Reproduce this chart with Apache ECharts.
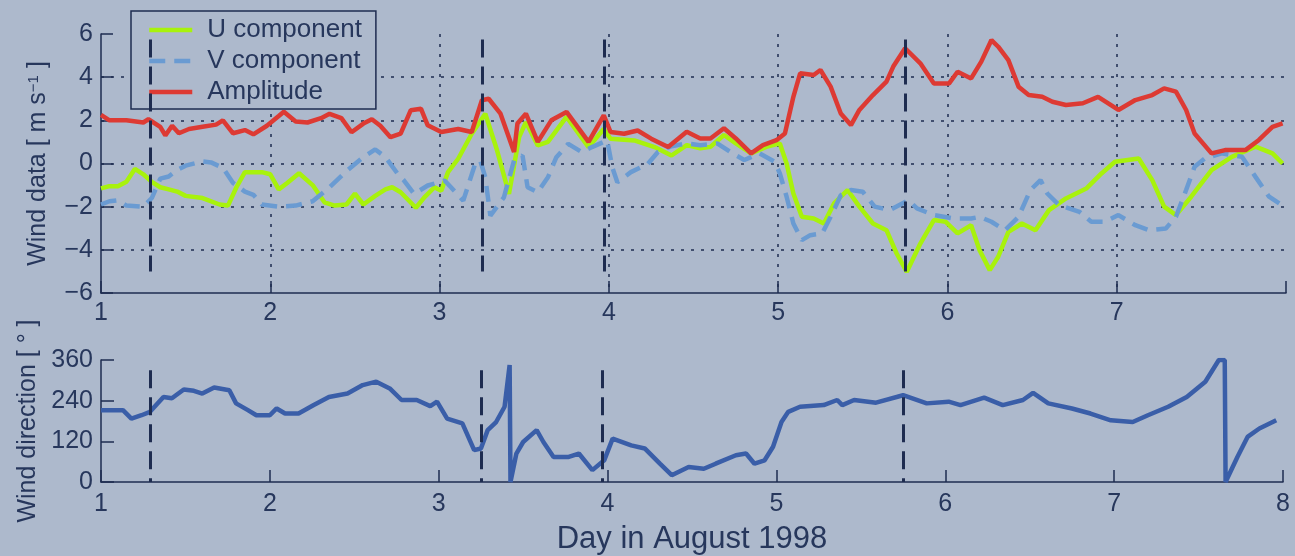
<!DOCTYPE html>
<html lang="en">

<head>
    <meta charset="UTF-8">
    <title>Wind data</title>
    <style>
        * {
            margin: 0;
            padding: 0;
        }

        html,
        body {
            height: 100%;
            background-color: #adb9cc;
        }

        #box {
            width: 1295px;
            height: 556px;
        }
    </style>
    <script src="https://cdn.jsdelivr.net/npm/echarts/dist/echarts.min.js"></script>
</head>

<body>
    <div id="box"></div>

    <script>
        // [day, m/s]
        var uComp = [[1.00, -1.15], [1.05, -1.05], [1.10, -1.05], [1.15, -0.85], [1.20, -0.25], [1.25, -0.5], [1.30, -0.85], [1.35, -1.1], [1.40, -1.2], [1.45, -1.3], [1.50, -1.5], [1.60, -1.6], [1.70, -1.9], [1.75, -1.95], [1.80, -1.1], [1.85, -0.4], [1.95, -0.4], [2.00, -0.5], [2.05, -1.2], [2.10, -0.9], [2.17, -0.45], [2.25, -1.0], [2.32, -1.8], [2.38, -1.95], [2.45, -1.9], [2.50, -1.4], [2.55, -1.9], [2.62, -1.5], [2.68, -1.2], [2.72, -1.1], [2.77, -1.33], [2.86, -2.05], [2.91, -1.57], [2.97, -1.1], [3.01, -1.26], [3.05, -0.4], [3.11, 0.22], [3.19, 1.38], [3.27, 2.31], [3.34, 0.6], [3.41, -1.41], [3.47, 1.22], [3.51, 1.92], [3.58, 0.84], [3.64, 1.0], [3.75, 2.16], [3.88, 0.76], [3.97, 1.6], [4.01, 1.15], [4.15, 1.07], [4.27, 0.76], [4.37, 0.37], [4.46, 0.85], [4.54, 0.7], [4.60, 0.77], [4.68, 1.32], [4.75, 0.93], [4.84, 0.47], [4.93, 0.77], [5.01, 0.93], [5.05, 0.0], [5.09, -1.39], [5.14, -2.47], [5.21, -2.55], [5.27, -2.78], [5.33, -1.85], [5.41, -1.23], [5.48, -2.0], [5.56, -2.78], [5.64, -3.09], [5.70, -4.17], [5.76, -5.02], [5.84, -3.71], [5.92, -2.62], [5.99, -2.7], [6.06, -3.24], [6.14, -2.86], [6.19, -4.02], [6.25, -4.94], [6.30, -4.32], [6.36, -3.17], [6.44, -2.78], [6.52, -3.09], [6.60, -2.16], [6.70, -1.62], [6.82, -1.16], [6.91, -0.46], [6.99, 0.08], [7.13, 0.23], [7.21, -0.77], [7.28, -2.0], [7.35, -2.39], [7.44, -1.54], [7.56, -0.31], [7.68, 0.31], [7.82, 0.78], [7.92, 0.47], [7.98, 0.0]];

        var vComp = [[1.00, -1.9], [1.05, -1.75], [1.10, -1.7], [1.15, -1.95], [1.25, -2.0], [1.30, -1.6], [1.35, -0.7], [1.40, -0.6], [1.45, -0.3], [1.50, -0.1], [1.60, 0.1], [1.65, 0.05], [1.72, -0.2], [1.78, -0.9], [1.85, -1.3], [1.90, -1.45], [1.95, -1.9], [2.05, -2.0], [2.15, -1.95], [2.25, -1.75], [2.35, -1.1], [2.45, -0.35], [2.55, 0.3], [2.62, 0.65], [2.68, 0.3], [2.75, -0.45], [2.79, -0.79], [2.85, -1.41], [2.93, -1.02], [3.03, -0.79], [3.14, -1.72], [3.21, -0.02], [3.24, 0.14], [3.27, -0.64], [3.30, -2.42], [3.38, -1.57], [3.44, 0.14], [3.49, 0.37], [3.52, -1.1], [3.58, -1.33], [3.64, -0.64], [3.69, 0.29], [3.76, 0.91], [3.84, 0.53], [3.90, 0.76], [3.99, 1.07], [4.02, -0.17], [4.05, -0.87], [4.13, -0.4], [4.23, -0.02], [4.29, 0.53], [4.37, 0.8], [4.46, 0.93], [4.54, 0.85], [4.64, 0.93], [4.73, 0.47], [4.80, 0.16], [4.89, 0.47], [4.98, 0.08], [5.01, -0.46], [5.05, -1.54], [5.09, -2.78], [5.14, -3.55], [5.19, -3.32], [5.26, -3.24], [5.31, -2.47], [5.37, -1.47], [5.43, -1.23], [5.50, -1.31], [5.57, -2.0], [5.66, -2.16], [5.77, -1.7], [5.82, -2.08], [5.92, -2.39], [6.04, -2.55], [6.14, -2.55], [6.19, -2.47], [6.26, -2.7], [6.34, -3.09], [6.42, -2.47], [6.49, -1.23], [6.55, -0.77], [6.59, -1.39], [6.66, -1.93], [6.78, -2.24], [6.85, -2.7], [6.93, -2.7], [7.01, -2.39], [7.11, -2.86], [7.19, -3.09], [7.29, -3.01], [7.35, -2.47], [7.41, -1.23], [7.46, -0.15], [7.52, 0.23], [7.62, 0.47], [7.74, 0.31], [7.82, -0.62], [7.90, -1.54], [7.96, -1.85]];

        var amplitude = [[1.00, 2.25], [1.05, 2.0], [1.15, 2.0], [1.25, 1.9], [1.28, 2.05], [1.35, 1.7], [1.38, 1.3], [1.42, 1.75], [1.46, 1.4], [1.52, 1.6], [1.60, 1.7], [1.68, 1.8], [1.72, 2.0], [1.78, 1.4], [1.85, 1.55], [1.90, 1.35], [1.98, 1.75], [2.05, 2.2], [2.08, 2.4], [2.15, 1.95], [2.22, 1.9], [2.30, 2.1], [2.35, 2.3], [2.42, 2.1], [2.48, 1.45], [2.55, 1.85], [2.60, 2.05], [2.65, 1.75], [2.71, 1.22], [2.77, 1.38], [2.83, 2.47], [2.89, 2.54], [2.93, 1.77], [3.01, 1.46], [3.11, 1.6], [3.19, 1.46], [3.25, 2.93], [3.29, 3.0], [3.36, 2.31], [3.44, 0.53], [3.46, 1.85], [3.51, 2.31], [3.58, 1.0], [3.66, 2.0], [3.75, 2.39], [3.88, 1.0], [3.97, 2.23], [4.01, 1.46], [4.09, 1.38], [4.17, 1.53], [4.25, 1.15], [4.35, 0.76], [4.46, 1.47], [4.54, 1.16], [4.60, 1.16], [4.68, 1.63], [4.75, 1.16], [4.84, 0.47], [4.91, 0.85], [4.99, 1.08], [5.04, 1.39], [5.09, 3.09], [5.13, 4.18], [5.21, 4.1], [5.25, 4.33], [5.31, 3.56], [5.37, 2.32], [5.43, 1.78], [5.48, 2.48], [5.56, 3.17], [5.64, 3.79], [5.68, 4.49], [5.75, 5.34], [5.84, 4.64], [5.92, 3.71], [6.01, 3.71], [6.06, 4.25], [6.14, 3.94], [6.20, 4.72], [6.26, 5.72], [6.30, 5.41], [6.36, 4.79], [6.42, 3.56], [6.48, 3.17], [6.56, 3.09], [6.62, 2.86], [6.70, 2.71], [6.80, 2.79], [6.89, 3.09], [6.95, 2.79], [7.01, 2.48], [7.11, 2.94], [7.21, 3.17], [7.28, 3.48], [7.35, 3.33], [7.41, 2.48], [7.46, 1.39], [7.56, 0.47], [7.64, 0.62], [7.76, 0.62], [7.84, 1.09], [7.92, 1.7], [7.98, 1.86]];

        // [day, degrees]
        var direction = [[1.00, 212], [1.13, 212], [1.18, 187], [1.24, 197], [1.29, 207], [1.37, 251], [1.42, 247], [1.49, 273], [1.55, 269], [1.60, 261], [1.67, 279], [1.76, 271], [1.80, 232], [1.87, 212], [1.92, 197], [2.00, 197], [2.04, 217], [2.09, 202], [2.17, 202], [2.26, 227], [2.35, 251], [2.46, 261], [2.55, 286], [2.63, 296], [2.71, 276], [2.78, 242], [2.87, 242], [2.95, 224], [2.99, 237], [3.05, 187], [3.14, 173], [3.21, 94], [3.25, 99], [3.29, 153], [3.34, 177], [3.39, 222], [3.42, 345], [3.425, 0], [3.46, 84], [3.50, 118], [3.58, 153], [3.62, 118], [3.68, 74], [3.77, 74], [3.83, 84], [3.91, 35], [3.98, 64], [4.03, 128], [4.14, 108], [4.22, 99], [4.31, 54], [4.38, 20], [4.48, 44], [4.57, 39], [4.64, 54], [4.76, 79], [4.82, 84], [4.87, 54], [4.93, 64], [4.98, 104], [5.03, 177], [5.07, 207], [5.14, 222], [5.28, 227], [5.36, 242], [5.39, 227], [5.46, 242], [5.59, 234], [5.75, 256], [5.89, 232], [6.02, 237], [6.09, 227], [6.23, 249], [6.34, 227], [6.46, 242], [6.52, 263], [6.61, 232], [6.75, 217], [6.86, 202], [6.98, 182], [7.11, 177], [7.20, 197], [7.32, 222], [7.43, 251], [7.54, 296], [7.62, 360], [7.655, 360], [7.66, 0], [7.73, 74], [7.79, 133], [7.86, 158], [7.96, 182]];

        // dashed event markers
        var markerDays = [1.29, 3.25, 3.97, 5.75];

        var dark = '#1e2c50';
        var textColor = '#27375c';
        var font = 'Liberation Sans, Arial, sans-serif';

        function markLines(top, bottom) {
            return {
                silent: true,
                symbol: ['none', 'none'],
                label: { show: false },
                lineStyle: { color: dark, width: 3, type: [18, 9] },
                data: markerDays.map(function (d) {
                    return [{ coord: [d, top] }, { coord: [d, bottom] }];
                })
            };
        }

        // real minus sign like the original plot
        function minus(v) {
            return String(v).replace('-', '\u2212');
        }

        var dotted = { show: true, showMinLine: false, showMaxLine: false, lineStyle: { color: dark, width: 1.5, type: [3, 7] } };

        var myChart = echarts.init(document.getElementById('box'));
        myChart.setOption({
            animation: false,
            backgroundColor: '#adb9cc',
            textStyle: { fontFamily: font },
            grid: [
                { left: 101, right: 9, top: 34, height: 259, outerBoundsMode: 'none' },
                { left: 101, right: 12, top: 360, height: 122, outerBoundsMode: 'none' }
            ],
            legend: {
                data: ['U component', 'V component', 'Amplitude'],
                orient: 'vertical',
                left: 131,
                top: 11,
                itemWidth: 43,
                itemHeight: 28,
                itemGap: 3,
                padding: [5, 14, 3, 16],
                backgroundColor: '#adb9cc',
                borderColor: dark,
                borderWidth: 1.5,
                borderRadius: 0,
                selectedMode: false,
                itemStyle: { color: 'rgba(0,0,0,0)', borderWidth: 0 },
                lineStyle: { width: 4.5 },
                textStyle: { color: textColor, fontSize: 26, lineHeight: 28, fontFamily: font, padding: [0, 0, 0, 10] }
            },
            xAxis: [
                {
                    gridIndex: 0, type: 'value', min: 1, max: 8, interval: 1,
                    axisLine: { onZero: false, lineStyle: { color: dark, width: 1.5 } },
                    axisTick: { inside: true, length: 12, lineStyle: { color: dark, width: 1.5 } },
                    axisLabel: {
                        color: textColor, fontSize: 25, margin: 8,
                        formatter: function (v) { return v === 8 ? '' : v; }
                    },
                    splitLine: dotted
                },
                {
                    gridIndex: 1, type: 'value', min: 1, max: 8, interval: 1,
                    name: 'Day in August 1998', nameLocation: 'middle', nameGap: 42,
                    nameTextStyle: { color: textColor, fontSize: 31 },
                    axisLine: { onZero: false, lineStyle: { color: dark, width: 1.5 } },
                    axisTick: { inside: true, length: 12, lineStyle: { color: dark, width: 1.5 } },
                    axisLabel: { color: textColor, fontSize: 25, margin: 10 },
                    splitLine: { show: false }
                }
            ],
            yAxis: [
                {
                    gridIndex: 0, type: 'value', min: -6, max: 6, interval: 2,
                    name: 'Wind data [ m s{sup|−1} ]', nameLocation: 'middle', nameGap: 50, nameRotate: 90,
                    nameTextStyle: {
                        color: textColor, fontSize: 25,
                        rich: { sup: { color: textColor, fontSize: 15, verticalAlign: 'top', padding: [0, 0, 10, 0] } }
                    },
                    axisLine: { onZero: false, lineStyle: { color: dark, width: 1.5 } },
                    axisTick: { inside: true, length: 12, lineStyle: { color: dark, width: 1.5 } },
                    axisLabel: { color: textColor, fontSize: 25, margin: 8, formatter: minus },
                    splitLine: dotted
                },
                {
                    gridIndex: 1, type: 'value', min: 0, max: 360, interval: 120,
                    name: 'Wind direction [ ° ]', nameLocation: 'middle', nameGap: 58, nameRotate: 90,
                    nameTextStyle: { color: textColor, fontSize: 25 },
                    axisLine: { onZero: false, lineStyle: { color: dark, width: 1.5 } },
                    axisTick: { inside: true, length: 13, lineStyle: { color: dark, width: 1.5 } },
                    axisLabel: { color: textColor, fontSize: 25, margin: 8 },
                    splitLine: { show: false }
                }
            ],
            series: [
                {
                    name: 'U component', type: 'line', xAxisIndex: 0, yAxisIndex: 0,
                    data: uComp, symbol: 'none', showSymbol: false,
                    lineStyle: { color: '#a8f20c', width: 4.5 }, itemStyle: { color: '#a8f20c' }
                },
                {
                    name: 'V component', type: 'line', xAxisIndex: 0, yAxisIndex: 0,
                    data: vComp, symbol: 'none', showSymbol: false,
                    lineStyle: { color: '#6a9bd2', width: 4.5, type: [16, 9] }, itemStyle: { color: '#6a9bd2' }
                },
                {
                    name: 'Amplitude', type: 'line', xAxisIndex: 0, yAxisIndex: 0,
                    data: amplitude, symbol: 'none', showSymbol: false,
                    lineStyle: { color: '#dd3a33', width: 4.5 }, itemStyle: { color: '#dd3a33' },
                    markLine: markLines(5.75, -5)
                },
                {
                    name: 'Direction', type: 'line', xAxisIndex: 1, yAxisIndex: 1,
                    data: direction, symbol: 'none', showSymbol: false,
                    lineStyle: { color: '#3a5ea8', width: 4.5 }, itemStyle: { color: '#3a5ea8' },
                    markLine: markLines(330, 0)
                }
            ]
        });

        window.onresize = function () {
            myChart.resize();
        };
    </script>
</body>

</html>
